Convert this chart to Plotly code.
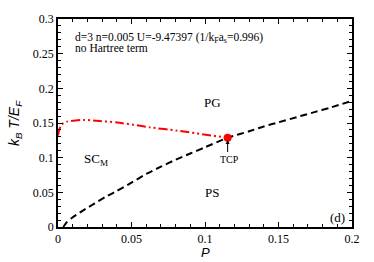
import plotly.graph_objects as go

# Dashed black curve (phase boundary)
p_black = [0.0036, 0.006, 0.01, 0.0172, 0.025, 0.032, 0.040, 0.050, 0.060, 0.070, 0.080, 0.090,
           0.100, 0.1154, 0.130, 0.140, 0.150, 0.165, 0.175, 0.185, 0.2]
t_black = [0.0, 0.007, 0.014, 0.024, 0.034, 0.043, 0.052, 0.064, 0.0765, 0.087, 0.097, 0.106,
           0.115, 0.1286, 0.138, 0.145, 0.151, 0.160, 0.166, 0.172, 0.182]

# Red dash-dot curve (first-order line ending at TCP)
p_red = [0.0, 0.001, 0.0025, 0.006, 0.0172, 0.028, 0.040, 0.0558, 0.0626, 0.081, 0.1154]
t_red = [0.132, 0.141, 0.148, 0.152, 0.1545, 0.153, 0.1507, 0.146, 0.1437, 0.139, 0.1286]

tcp_p = [0.1154]
tcp_t = [0.1286]

x_ticks = [0, 0.05, 0.1, 0.15, 0.2]
x_ticklabels = ["0", "0.05", "0.1", "0.15", "0.2"]
y_ticks = [0, 0.05, 0.1, 0.15, 0.2, 0.25, 0.3]
y_ticklabels = ["0", "0.05", "0.1", "0.15", "0.2", "0.25", "0.3"]

FONT = "Liberation Serif"

fig = go.Figure()
fig.add_trace(go.Scatter(x=p_black, y=t_black, mode="lines", line_shape="spline",
                         line=dict(color="black", width=2, dash="7px,4px", smoothing=0.6),
                         showlegend=False, hoverinfo="skip"))
fig.add_trace(go.Scatter(x=p_red, y=t_red, mode="lines", line_shape="spline",
                         line=dict(color="red", width=2, dash="9px,3px,2px,3px,2px,3px", smoothing=0.6),
                         showlegend=False, hoverinfo="skip"))
fig.add_trace(go.Scatter(x=tcp_p, y=tcp_t, mode="markers",
                         marker=dict(color="red", size=8, symbol="circle"),
                         showlegend=False, hoverinfo="skip"))

axis_common = dict(showgrid=False, zeroline=False, showline=True, linecolor="black",
                   linewidth=1.5, ticks="inside", ticklen=5, tickwidth=1, tickcolor="black",
                   mirror="allticks",
                   tickfont=dict(family=FONT, size=12, color="black"))

fig.update_xaxes(range=[0, 0.2], tickvals=x_ticks, ticktext=x_ticklabels,
                 minor=dict(dtick=0.01, ticks="inside", ticklen=3, tickcolor="black", tickwidth=1),
                 **axis_common)
fig.update_yaxes(range=[0, 0.3], tickvals=y_ticks, ticktext=y_ticklabels,
                 minor=dict(dtick=0.01, ticks="inside", ticklen=3, tickcolor="black", tickwidth=1),
                 **axis_common)

annots = [
    dict(x=0.0103, y=0.2728, text="d=3 n=0.005 U=-9.47397 (1/k<sub>F</sub>a<sub>s</sub>=0.996)",
         xanchor="left", size=11.5),
    dict(x=0.0103, y=0.2578, text="no Hartree term", xanchor="left", size=11.5),
    dict(x=0.105, y=0.179, text="PG", xanchor="center", size=13),
    dict(x=0.026, y=0.097, text="SC<sub>M</sub>", xanchor="center", size=13),
    dict(x=0.1045, y=0.05, text="PS", xanchor="center", size=13),
    dict(x=0.1165, y=0.0976, text="TCP", xanchor="center", size=10),
    dict(x=0.19, y=0.0137, text="(d)", xanchor="center", size=13),
]
for a in annots:
    fig.add_annotation(x=a["x"], y=a["y"], text=a["text"], showarrow=False,
                       xanchor=a["xanchor"], yanchor="middle",
                       font=dict(family=FONT, size=a["size"], color="black"))

# Arrow from TCP label to the point
fig.add_annotation(x=0.1154, y=0.1255, ax=0.1154, ay=0.106, xref="x", yref="y",
                   axref="x", ayref="y", showarrow=True, arrowhead=2, arrowsize=0.8,
                   arrowwidth=1, arrowcolor="black", text="")

# Axis titles
fig.add_annotation(x=0.1, y=-0.122, xref="x", yref="paper", text="<i>P</i>",
                   showarrow=False, yanchor="middle",
                   font=dict(family="Liberation Sans", size=13, color="black"))
fig.add_annotation(xref="paper", yref="paper", x=-0.146, y=0.5,
                   text="<i>k<sub>B</sub> T/E<sub>F</sub></i>", textangle=-90, showarrow=False,
                   xanchor="center", yanchor="middle",
                   font=dict(family="Liberation Sans", size=14, color="black"))

fig.update_layout(width=374, height=262, margin=dict(l=58, r=22, t=14, b=35),
                  paper_bgcolor="white", plot_bgcolor="white")

fig.write_html("out.html", config={"displayModeBar": False},
               post_script="document.body.style.margin='0px';")
